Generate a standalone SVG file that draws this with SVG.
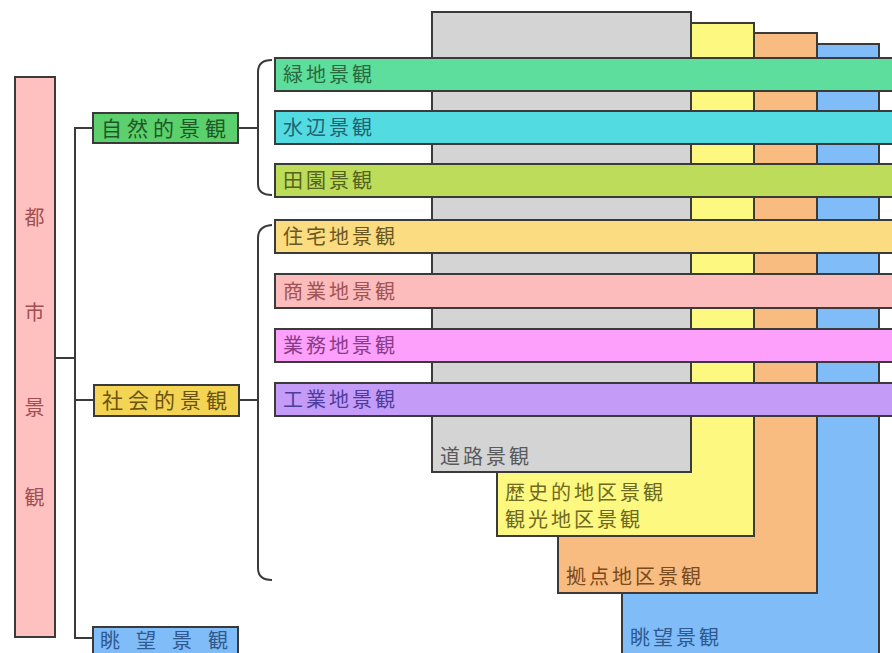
<svg xmlns="http://www.w3.org/2000/svg" width="892" height="653" viewBox="0 0 892 653">
<style>
text{font-family:"Noto Sans CJK JP","Noto Sans CJK SC",sans-serif;font-size:20px;letter-spacing:3px}
.b{stroke:#3a3a3a;stroke-width:2}
.c{fill:none;stroke:#3a3a3a;stroke-width:2}
.m{font-size:21px;letter-spacing:5px}
.w{letter-spacing:16px}
</style>
<rect width="892" height="653" fill="#ffffff"/>
<g id="layers">
<g id="chobo-area"><rect class="b" x="622" y="44" width="257" height="620" fill="#80bcf8"/><text x="630" y="645" fill="#2e5a90">眺望景観</text></g>
<g id="kyoten"><rect class="b" x="558" y="33" width="259" height="560" fill="#f8bc80"/><text x="566" y="584" fill="#7a4a20">拠点地区景観</text></g>
<g id="rekishi"><rect class="b" x="497" y="23" width="257" height="513" fill="#fcf880"/><text x="505" y="500" fill="#6e6a20">歴史的地区景観</text><text x="505" y="527" fill="#6e6a20">観光地区景観</text></g>
<g id="doro"><rect class="b" x="432" y="12" width="259" height="460" fill="#d4d4d4"/><text x="440" y="464" fill="#5a5a5a">道路景観</text></g>
</g>
<g id="bars">
<g id="ryokuchi"><rect class="b" x="275" y="58" width="630" height="33" fill="#5ede9c"/><text x="283" y="82" fill="#2a6a40">緑地景観</text></g>
<g id="suihen"><rect class="b" x="275" y="111" width="630" height="33" fill="#52dce2"/><text x="283" y="135" fill="#1f6470">水辺景観</text></g>
<g id="den-en"><rect class="b" x="275" y="164" width="630" height="33" fill="#bcdc5a"/><text x="283" y="188" fill="#556220">田園景観</text></g>
<g id="jutaku"><rect class="b" x="275" y="220" width="630" height="33" fill="#fcdc80"/><text x="283" y="244" fill="#6a5820">住宅地景観</text></g>
<g id="shogyo"><rect class="b" x="275" y="274" width="630" height="34" fill="#fcbcbc"/><text x="283" y="299" fill="#a05454">商業地景観</text></g>
<g id="gyomu"><rect class="b" x="275" y="329" width="630" height="33" fill="#fca0fc"/><text x="283" y="353" fill="#8a3c8a">業務地景観</text></g>
<g id="kogyo"><rect class="b" x="275" y="383" width="630" height="33" fill="#c49cf8"/><text x="283" y="407" fill="#4e3c9c">工業地景観</text></g>
</g>
<g id="toshi"><rect class="b" x="15" y="77" width="40" height="560" fill="#ffc0c0"/>
<g fill="#a05050" text-anchor="middle"><text x="36" y="225">都</text><text x="36" y="320">市</text><text x="36" y="415">景</text><text x="36" y="505">観</text></g></g>
<g id="shizen"><rect class="b" x="93" y="113" width="145" height="30" fill="#5cd06c"/><text class="m" x="101" y="136" fill="#1e5a28">自然的景観</text></g>
<g id="shakai"><rect class="b" x="94" y="385" width="145" height="31" fill="#f4d454"/><text class="m" x="102" y="408" fill="#6a5410">社会的景観</text></g>
<g id="chobo"><rect class="b" x="93" y="627" width="145" height="40" fill="#80bcf8"/><text class="w" x="100" y="648" fill="#2e5a90">眺望景観</text></g>
<g id="connectors">
<path class="c" d="M55,358 H75 M93,128 H75 V638 H93 M75,400 H94"/>
<path class="c" d="M238,128 H258 M272,60 Q258,60 258,72 V184 Q258,195 272,195"/>
<path class="c" d="M239,400 H258 M272,225 Q258,226 258,238 V568 Q258,580 272,580"/>
</g>
</svg>
